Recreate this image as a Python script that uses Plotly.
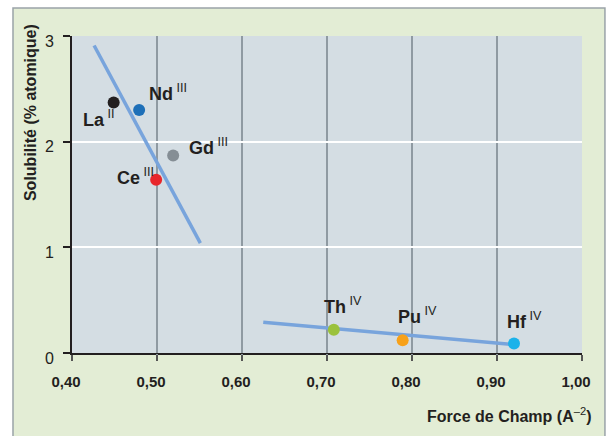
import plotly.graph_objects as go

# Données
elements = ['La', 'Nd', 'Gd', 'Ce', 'Th', 'Pu', 'Hf']
valences = ['II', 'III', 'III', 'III', 'IV', 'IV', 'IV']
force_champ = [0.449, 0.479, 0.519, 0.499, 0.708, 0.789, 0.920]
solubilite = [2.37, 2.30, 1.87, 1.64, 0.22, 0.12, 0.09]
couleurs = ['#231f20', '#1d6fb8', '#858e95', '#e8262b', '#9bc23c', '#f7a11a', '#1bb2ea']

# droites de tendance
tendance1_x = [0.426, 0.551]
tendance1_y = [2.91, 1.04]
tendance2_x = [0.625, 0.920]
tendance2_y = [0.29, 0.08]

x_ticks = [0.4, 0.5, 0.6, 0.7, 0.8, 0.9, 1.0]
x_labels = ['0,40', '0,50', '0,60', '0,70', '0,80', '0,90', '1,00']
x_grille = [0.5, 0.6, 0.7, 0.8, 0.9]
y_ticks = [0, 1, 2, 3]

# décalage des étiquettes (px) par rapport aux points
decal_x = [-15, 29, 35, -21, 9, 15, 10]
decal_y = [-16, 17, 9, 3, 24, 25, 23]

police = 'Liberation Sans, Arial'

fig = go.Figure()

# droites sur l'axe principal (celui qui porte la grille)
for tx, ty in [(tendance1_x, tendance1_y), (tendance2_x, tendance2_y)]:
    fig.add_trace(go.Scatter(
        x=tx, y=ty, mode='lines', xaxis='x', yaxis='y',
        line=dict(color='#78a4dc', width=3.5),
        showlegend=False, hoverinfo='skip'
    ))

fig.add_trace(go.Scatter(
    x=force_champ, y=solubilite, mode='markers', xaxis='x2', yaxis='y',
    marker=dict(color=couleurs, size=12),
    showlegend=False
))

for el, val, xv, yv, dx, dy in zip(elements, valences, force_champ, solubilite, decal_x, decal_y):
    fig.add_annotation(
        x=xv, y=yv, xref='x2', yref='y', text='<b>%s</b><sup> %s</sup>' % (el, val),
        showarrow=False, xshift=dx, yshift=dy,
        font=dict(family=police, size=18, color='#231f20')
    )

# cadre vert puis fond du graphique
fig.add_shape(type='rect', xref='paper', yref='paper',
              x0=-0.1157, x1=1.045, y0=-0.30, y1=1.088,
              fillcolor='#e3edd5', line=dict(color='#9aa3a8', width=1.5),
              layer='below')
fig.add_shape(type='rect', xref='paper', yref='paper',
              x0=0, x1=1, y0=0, y1=1,
              fillcolor='#d4dde3', line=dict(width=0),
              layer='below')

fig.add_annotation(
    xref='paper', yref='paper', x=1.0216, y=-0.1956,
    xanchor='right', yanchor='middle', showarrow=False,
    text='<b>Force de Champ (A</b><sup>–2</sup><b>)</b>',
    font=dict(family=police, size=16, color='#231f20')
)
fig.add_annotation(
    xref='paper', yref='paper', x=-0.0824, y=0.760,
    xanchor='center', yanchor='middle', showarrow=False, textangle=-90,
    text='<b>Solubilité (% atomique)</b>',
    font=dict(family=police, size=16, color='#231f20')
)

fig.update_layout(
    width=609, height=436,
    margin=dict(l=72, r=27, t=36, b=83),
    paper_bgcolor='white',
    plot_bgcolor='#d4dde3',
    # axe principal : uniquement la grille verticale
    xaxis=dict(
        range=[0.4, 1.0], tickvals=x_grille, showticklabels=False,
        showgrid=True, gridcolor='#8f9aa2', gridwidth=1.5,
        ticks='outside', ticklen=6, tickcolor='#8f9aa2', tickwidth=1.5,
        zeroline=False
    ),
    # axe superposé : ligne, graduations et étiquettes
    xaxis2=dict(
        range=[0.4, 1.0], overlaying='x', side='bottom', anchor='y',
        tickvals=x_ticks, ticktext=x_labels, showgrid=False,
        showline=True, linecolor='#231f20', linewidth=2,
        ticks='outside', ticklen=6, tickcolor='#555', tickwidth=1.5,
        tickfont=dict(family=police, size=15, color='#231f20', weight='bold'),
        ticklabelstandoff=8, ticklabelshift=-6, zeroline=False
    ),
    yaxis=dict(
        range=[0, 3], tickvals=y_ticks,
        showgrid=True, gridcolor='white', gridwidth=2,
        showline=True, linecolor='#231f20', linewidth=2,
        ticks='outside', ticklen=7, tickcolor='#231f20', tickwidth=1.5,
        tickfont=dict(family=police, size=16, color='#231f20'),
        ticklabelstandoff=6, ticklabelshift=5, zeroline=False
    ),
)

fig.write_html('out.html', config={'displayModeBar': False},
               post_script="document.body.style.margin='0';")
